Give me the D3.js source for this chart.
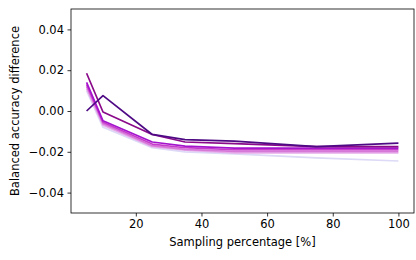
<!DOCTYPE html>
<html>
<head>
<meta charset="utf-8">
<script src="https://cdn.jsdelivr.net/npm/d3@7"></script>
<style>
  body { margin:0; background:#fff; }
  svg { display:block; font-family:"DejaVu Sans", sans-serif; }
</style>
</head>
<body>
<div id="chart"></div>
<script>
// sampling percentages on the x axis
const samplingPct = [5, 10, 25, 35, 50, 75, 100];

// one series per run, light to dark (drawn light first, dark on top)
const seriesColors = ["#dcdaf6", "#e6acea", "#d678d8", "#c83ccc", "#a414cc", "#8a0a8a", "#4e0a84"];
const seriesValues = [
  [0.0100, -0.0080, -0.0180, -0.0200, -0.0210, -0.0230, -0.0245],
  [0.0110, -0.0070, -0.0175, -0.0192, -0.0205, -0.0205, -0.0205],
  [0.0120, -0.0062, -0.0170, -0.0188, -0.0198, -0.0198, -0.0198],
  [0.0130, -0.0055, -0.0162, -0.0180, -0.0190, -0.0190, -0.0190],
  [0.0140, -0.0048, -0.0152, -0.0172, -0.0182, -0.0182, -0.0182],
  [0.0185, -0.0005, -0.0115, -0.0152, -0.0160, -0.0175, -0.0175],
  [0.0000,  0.0075, -0.0115, -0.0140, -0.0148, -0.0175, -0.0157]
];

const xTicks = [20, 40, 60, 80, 100];
const yTicks = [-0.04, -0.02, 0.00, 0.02, 0.04];

const W = 416, H = 260;
const m = { left: 71, right: 2, top: 9, bottom: 47 };
const fs = 11.5;

const svg = d3.select("#chart").append("svg")
  .attr("width", W).attr("height", H);

const x = d3.scaleLinear().domain([0.25, 104.75]).range([m.left, W - m.right]);
const y = d3.scaleLinear().domain([-0.05, 0.05]).range([H - m.bottom, m.top]);

const line = d3.line()
  .x((d, i) => x(samplingPct[i]))
  .y(d => y(d));

svg.append("g").selectAll("path")
  .data(seriesValues)
  .join("path")
  .attr("d", line)
  .attr("fill", "none")
  .attr("stroke", (d, i) => seriesColors[i])
  .attr("stroke-width", 1.7)
  .attr("stroke-linejoin", "round");

// axes
const xAxis = svg.append("g")
  .attr("transform", `translate(0,${H - m.bottom})`)
  .call(d3.axisBottom(x).tickValues(xTicks).tickSize(3.5).tickPadding(3.5).tickFormat(d3.format("d")));
const yAxis = svg.append("g")
  .attr("transform", `translate(${m.left},0)`)
  .call(d3.axisLeft(y).tickValues(yTicks).tickSize(3.5).tickPadding(3.5)
    .tickFormat(d => d3.format(".2f")(d).replace("-", "\u2212")));

[xAxis, yAxis].forEach(a => {
  a.selectAll("text").attr("font-size", fs).attr("fill", "#000").attr("font-family", "DejaVu Sans");
  a.selectAll("line").attr("stroke", "#000").attr("stroke-width", 0.8);
  a.select(".domain").remove();
});

// frame
svg.append("rect")
  .attr("x", m.left).attr("y", m.top)
  .attr("width", W - m.right - m.left).attr("height", H - m.bottom - m.top)
  .attr("fill", "none").attr("stroke", "#000").attr("stroke-width", 0.8);

svg.append("text")
  .attr("x", (m.left + W - m.right) / 2).attr("y", 246)
  .attr("text-anchor", "middle").attr("font-size", fs)
  .text("Sampling percentage [%]");

svg.append("text")
  .attr("transform", `translate(19,${(m.top + H - m.bottom) / 2}) rotate(-90)`)
  .attr("text-anchor", "middle").attr("font-size", fs)
  .text("Balanced accuracy difference");
</script>
</body>
</html>
